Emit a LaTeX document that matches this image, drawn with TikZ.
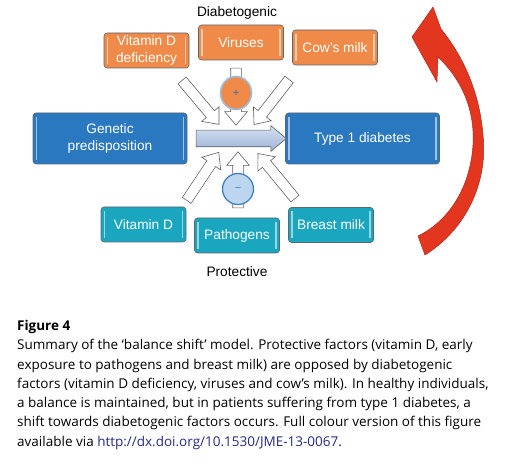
\documentclass[tikz,border=0pt]{standalone}
\usepackage{fontspec}
\setmainfont{Liberation Sans}
\newfontfamily\capfont{Open Sans}
\usetikzlibrary{shapes.geometric,shapes.arrows,calc,positioning}
\definecolor{diaorange}{HTML}{F08A48}
\definecolor{protteal}{HTML}{1BA6C0}
\definecolor{mainblue}{HTML}{2A79C0}
\definecolor{boxline}{HTML}{5E6670}
\definecolor{shiftlight}{HTML}{D6E1F1}
\definecolor{shiftdark}{HTML}{9DB3D8}
\definecolor{plusring}{HTML}{9DBCE2}
\definecolor{plussign}{HTML}{3C6EB4}
\definecolor{minusfill}{HTML}{BCD6F0}
\definecolor{minusring}{HTML}{3A7AC2}
\definecolor{arrowred}{HTML}{E2361F}
\definecolor{arrowedge}{HTML}{B2261A}
\definecolor{doiblue}{HTML}{24288C}
\tikzset{
  basic/.style  = {draw=boxline, rounded corners=3pt, line width=0.6pt, text=white,
                   align=center, inner sep=1pt, font=\fontsize{13.7}{16.5}\selectfont,
                   path picture={
                     \draw[white, opacity=0.55, line width=1.3pt]
                       ([xshift=3.5pt,yshift=-4pt]path picture bounding box.north west) --
                       ([xshift=3.5pt,yshift=4pt]path picture bounding box.south west)
                       ([xshift=-3.5pt,yshift=-4pt]path picture bounding box.north east) --
                       ([xshift=-3.5pt,yshift=4pt]path picture bounding box.south east);}},
  diab/.style   = {basic, fill=diaorange, minimum width=85pt, minimum height=35pt},
  prot/.style   = {basic, fill=protteal, minimum width=85pt, minimum height=35pt},
  main/.style   = {basic, fill=mainblue, minimum width=154pt, minimum height=51pt},
  hollow/.style = {single arrow, draw=gray!75!black, fill=white, line width=0.6pt,
                   inner xsep=0pt, inner ysep=5pt, single arrow head extend=6pt,
                   single arrow tip angle=80, sloped, allow upside down},
  shiftarrow/.style = {single arrow, draw=gray!75!black, line width=0.6pt,
                   top color=shiftlight, bottom color=shiftdark, inner xsep=0pt,
                   inner ysep=8pt, single arrow head extend=4.5pt,
                   single arrow tip angle=80, minimum height=90pt},
  grouptitle/.style = {font=\fontsize{13.7}{16.5}\selectfont}
}

\begin{document}
\begin{tikzpicture}[x=1pt, y=-1pt]
\useasboundingbox (0,0) rectangle (509,470);

% the diabetogenic factors, on top
\node[grouptitle] (dtitle) at (237,13) {Diabetogenic};
\node[diab] (d1) at (146.5,50.5) {Vitamin D\\deficiency};
\node[diab] (d2) at (241,42.5) {Viruses};
\node[diab] (d3) at (335,47.5) {Cow's milk};

% the two main boxes
\node[main] (gen) at (110,138.5) {Genetic\\predisposition};
\node[main] (t1d) at (362.5,138.5) {Type 1 diabetes};

% the protective factors, below
\node[prot] (p1) at (143.5,224.5) {Vitamin D};
\node[prot] (p2) at (237,235.5) {Pathogens};
\node[prot] (p3) at (331,225) {Breast milk};
\node[grouptitle] (ptitle) at (237,272) {Protective};

% tails and heads of the factor arrows
\coordinate (d1-t) at (180,78);  \coordinate (d1-h) at (217,122);
\coordinate (d2-t) at (236,65);  \coordinate (d2-h) at (236,122);
\coordinate (d3-t) at (291,77);  \coordinate (d3-h) at (256,122);
\coordinate (p1-t) at (185,203); \coordinate (p1-h) at (217,155);
\coordinate (p2-t) at (238,211); \coordinate (p2-h) at (238,155);
\coordinate (p3-t) at (297,201); \coordinate (p3-h) at (260,156);

\foreach \v in {d1,d2,d3,p1,p2,p3}
  \path let \p1 = ($(\v-h)-(\v-t)$), \n1 = {veclen(\x1,\y1)} in
    (\v-t) -- (\v-h) node[midway, hollow, minimum height=\n1] {};

% plus and minus signs
\node[ellipse, draw=plusring, line width=1.6pt, fill=diaorange, inner sep=0pt,
      minimum width=31pt, minimum height=33pt, text=plussign,
      font=\fontsize{11}{11}\selectfont] (plus) at (236,93) {+};
\node[ellipse, draw=minusring, line width=1.2pt, fill=minusfill, inner sep=0pt,
      minimum width=31pt, minimum height=31pt, text=minusring,
      font=\fontsize{11}{11}\selectfont] (minus) at (238,189) {−};

% the shift from predisposition to disease
\path (gen) -- (t1d) node[midway, shiftarrow] (shift) {};

% red arrow on the right
\filldraw[fill=arrowred, draw=arrowedge, line width=0.5pt]
  (433,7) -- (412,37) -- (437,82) -- (438,57)
  .. controls (462,80) and (475,110) .. (473,145)
  .. controls (470,190) and (447,222) .. (418,236)
  -- (425,255)
  .. controls (468,228) and (488,180) .. (483,135)
  .. controls (479,85) and (458,50) .. (441,29) -- cycle;

% caption
\node[anchor=north west, align=left, inner sep=0pt,
      font=\capfont\fontsize{13.5}{19.3}\selectfont] (caption) at (17,320)
  {\textbf{Figure 4}\\
   Summary of the ‘balance shift’ model. Protective factors (vitamin D, early\\
   exposure to pathogens and breast milk) are opposed by diabetogenic\\
   factors (vitamin D deficiency, viruses and cow’s milk). In healthy individuals,\\
   a balance is maintained, but in patients suffering from type 1 diabetes, a\\
   shift towards diabetogenic factors occurs. Full colour version of this figure\\
   available via \textcolor{doiblue}{http://dx.doi.org/10.1530/JME-13-0067}.};
\end{tikzpicture}
\end{document}
